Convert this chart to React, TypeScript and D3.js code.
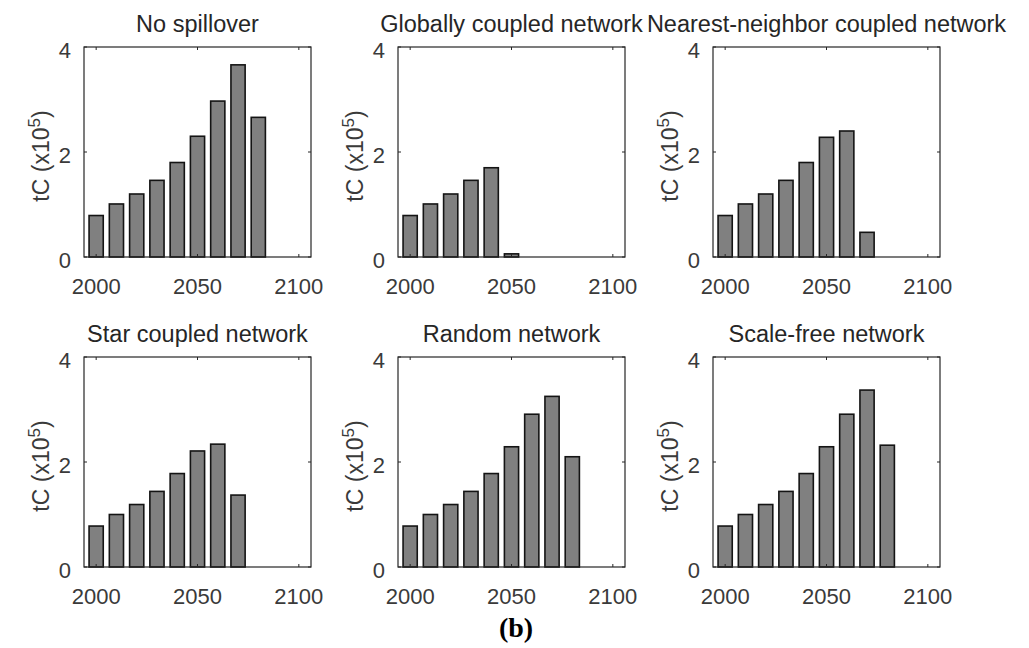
import * as d3 from "d3";

const years = [2000, 2010, 2020, 2030, 2040, 2050, 2060, 2070, 2080];
const xTicks = [2000, 2050, 2100];
const yTicks = [0, 2, 4];

const titles = [
  "No spillover",
  "Globally coupled network",
  "Nearest-neighbor coupled network",
  "Star coupled network",
  "Random network",
  "Scale-free network",
];

// tC in units of 1e5
const noSpillover = [0.79, 1.01, 1.2, 1.46, 1.8, 2.3, 2.97, 3.66, 2.66];
const globallyCoupled = [0.79, 1.01, 1.2, 1.46, 1.7, 0.06, 0, 0, 0];
const nearestNeighbor = [0.79, 1.01, 1.2, 1.46, 1.8, 2.28, 2.4, 0.47, 0];
const starCoupled = [0.78, 1.0, 1.19, 1.44, 1.78, 2.21, 2.34, 1.37, 0];
const randomNet = [0.78, 1.0, 1.19, 1.44, 1.78, 2.29, 2.91, 3.25, 2.1];
const scaleFree = [0.78, 1.0, 1.19, 1.44, 1.78, 2.29, 2.91, 3.37, 2.32];

const series = [noSpillover, globallyCoupled, nearestNeighbor, starCoupled, randomNet, scaleFree];

const W = 1029;
const H = 648;
const colLeft = [84, 398, 713];
const rowTop = [47, 357];
const pw = 227;
const ph = 210;
const font = "'Liberation Sans', Arial, sans-serif";
const ink = "#262626";
const grey = "#3a3a3a";

function Panel({ title, values, left, top }: { title: string; values: number[]; left: number; top: number }) {
  const x = d3.scaleLinear().domain([1994, 2106]).range([0, pw]);
  const y = d3.scaleLinear().domain([0, 4]).range([ph, 0]);
  const bw = x(2007) - x(2000);
  return (
    <g transform={`translate(${left},${top})`}>
      {values.map((v, i) =>
        v > 0 ? (
          <rect
            key={i}
            x={x(years[i]) - bw / 2}
            y={y(v)}
            width={bw}
            height={ph - y(v)}
            fill="#808080"
            stroke="#141414"
            strokeWidth={1.6}
          />
        ) : null
      )}
      <rect x={0} y={0} width={pw} height={ph} fill="none" stroke={ink} strokeWidth={1.2} />
      {xTicks.map((t) => (
        <g key={"x" + t}>
          <line x1={x(t)} x2={x(t)} y1={ph} y2={ph - 3} stroke={ink} />
          <line x1={x(t)} x2={x(t)} y1={0} y2={3} stroke={ink} />
          <text x={x(t)} y={ph + 37} textAnchor="middle" fontSize={22} fill={grey} fontFamily={font}>
            {t}
          </text>
        </g>
      ))}
      {yTicks.map((t) => (
        <g key={"y" + t}>
          <line x1={0} x2={3} y1={y(t)} y2={y(t)} stroke={ink} />
          <line x1={pw} x2={pw - 3} y1={y(t)} y2={y(t)} stroke={ink} />
          <text x={-13} y={y(t) + 11} textAnchor="end" fontSize={22} fill={grey} fontFamily={font}>
            {t}
          </text>
        </g>
      ))}
      <text x={pw / 2} y={-15} textAnchor="middle" fontSize={23.5} fill={ink} fontFamily={font}>
        {title}
      </text>
      <text
        transform={`translate(${-35},${ph / 2 + 4}) rotate(-90)`}
        textAnchor="middle"
        fontSize={23}
        fill={grey}
        fontFamily={font}
      >
        tC (x10
        <tspan dy={-9} fontSize={17}>5</tspan>
        <tspan dy={9}>)</tspan>
      </text>
    </g>
  );
}

export default function App() {
  return (
    <div style={{ position: "absolute", left: 0, top: 0 }}>
      <svg width={W} height={H} style={{ display: "block", background: "#fff" }}>
        {series.map((vals, i) => (
          <Panel
            key={i}
            title={titles[i]}
            values={vals}
            left={colLeft[i % 3]}
            top={rowTop[Math.floor(i / 3)]}
          />
        ))}
        <text x={516} y={637} textAnchor="middle" fontSize={28} fontWeight="bold" fontFamily="'Liberation Serif', 'Times New Roman', serif" fill="#000">
          (b)
        </text>
      </svg>
    </div>
  );
}
